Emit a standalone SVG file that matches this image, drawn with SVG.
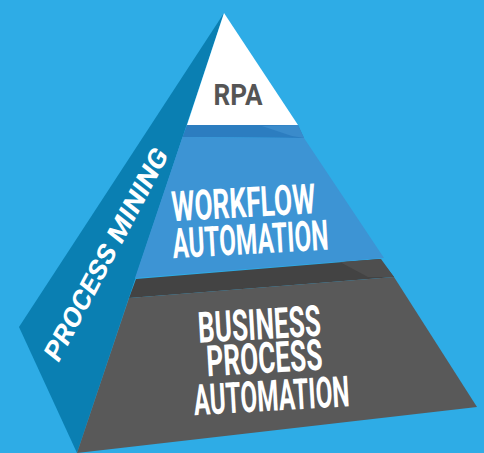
<svg xmlns="http://www.w3.org/2000/svg" width="484" height="453" viewBox="0 0 484 453">
<style>
.lbl{font-family:Roboto,"Liberation Sans",sans-serif;font-weight:bold;text-anchor:middle}
.w{fill:#ffffff}
.g{fill:#555555}
</style>
<rect width="484" height="453" fill="#2eace6"/>
<g id="process-mining">
<polygon points="224,13 19,327 77,453" fill="#0a7fb2"/>
<text class="lbl w" x="0" y="0" font-size="26" transform="translate(58,364) rotate(-62) skewX(-10)" style="text-anchor:start" textLength="236" lengthAdjust="spacingAndGlyphs">PROCESS MINING</text>
</g>
<g id="bpa">
<polygon points="136,279 380,259 394,277 129,298" fill="#434343"/>
<polygon points="340,262 381,259 394,277 368,277" fill="#4e4e4e"/>
<polygon points="129,298 394,277 477,407 77,453" fill="#595959"/>
<g transform="rotate(-3.3 265 370)">
<text class="lbl w" x="262" y="339" font-size="43" textLength="123" lengthAdjust="spacingAndGlyphs">BUSINESS</text>
<text class="lbl w" x="265" y="373" font-size="43" textLength="116" lengthAdjust="spacingAndGlyphs">PROCESS</text>
<text class="lbl w" x="270" y="411" font-size="43" textLength="156" lengthAdjust="spacingAndGlyphs">AUTOMATION</text>
</g>
</g>
<g id="workflow">
<polygon points="187,125 298,125 304,138 182.5,137" fill="#2c7dc0"/>
<polygon points="262,126 298,125 304,138 292,136" fill="#3a8bcb"/>
<polygon points="182.5,137 304,138 384,258 135,278" fill="#3d94d4"/>
<g transform="rotate(-3.2 248 234)">
<text class="lbl w" x="245" y="217" font-size="42" textLength="144" lengthAdjust="spacingAndGlyphs">WORKFLOW</text>
<text class="lbl w" x="250" y="254" font-size="42" textLength="156" lengthAdjust="spacingAndGlyphs">AUTOMATION</text>
</g>
</g>
<g id="rpa">
<polygon points="224,13 187,125 298,125" fill="#ffffff"/>
<text class="lbl g" x="238" y="105" font-size="30" textLength="49" lengthAdjust="spacingAndGlyphs">RPA</text>
</g>
<g id="connectors"/>
</svg>
